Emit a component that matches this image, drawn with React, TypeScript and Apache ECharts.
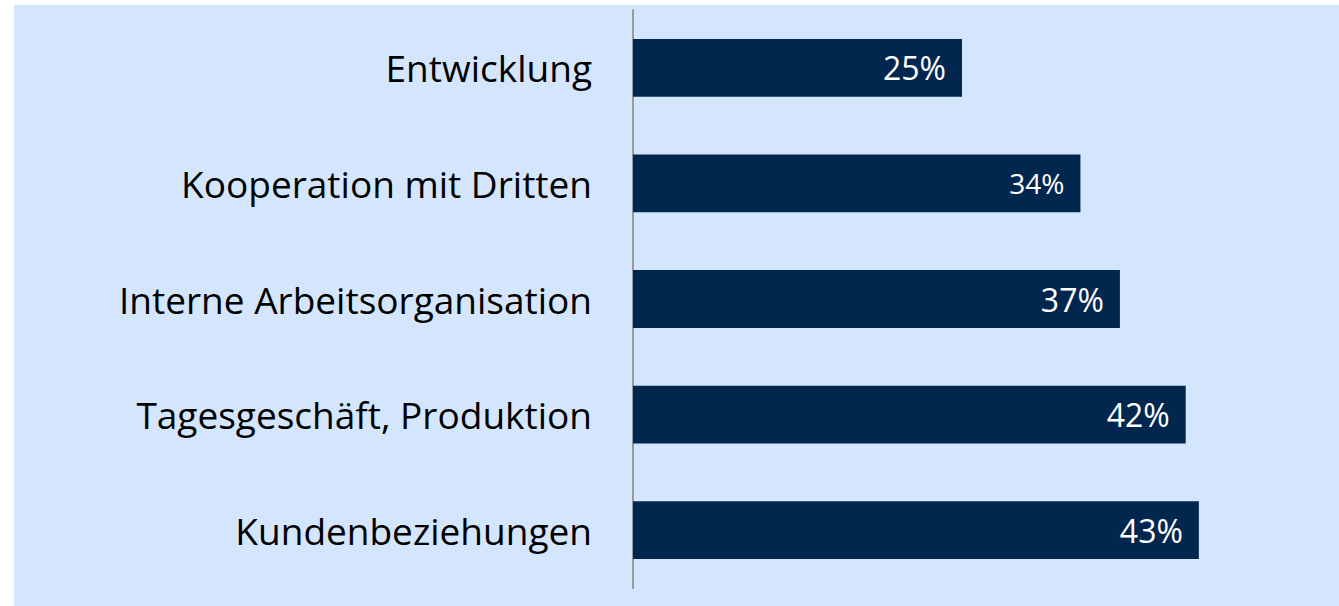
import React, { useEffect, useRef } from "react";
import * as echarts from "echarts";

const categories = [
  "Kundenbeziehungen",
  "Tagesgeschäft, Produktion",
  "Interne Arbeitsorganisation",
  "Kooperation mit Dritten",
  "Entwicklung",
];
const values = [43, 42, 37, 34, 25];
const labelSizes = [32, 32, 32, 28, 32];

export default function App() {
  const ref = useRef<HTMLDivElement>(null);
  useEffect(() => {
    const chart = echarts.init(ref.current!, undefined, { renderer: "svg" });
    chart.setOption({
      animation: false,
      backgroundColor: "#D4E6FD",
      grid: { left: 619, top: 5, bottom: 18, right: 48, containLabel: false },
      xAxis: {
        type: "value",
        min: 0,
        max: 50,
        show: false,
      },
      yAxis: {
        type: "category",
        data: categories,
        axisLine: { show: true, lineStyle: { color: "#9a9a9a", width: 2 } },
        axisTick: { show: false },
        axisLabel: {
          color: "#000",
          fontFamily: "Open Sans",
          fontSize: 37,
          margin: 41,
        },
      },
      series: [
        {
          type: "bar",
          data: values.map((v, i) => ({
            value: v,
            label: { fontSize: labelSizes[i] },
          })),
          barWidth: "50%",
          itemStyle: { color: "#02274F" },
          label: {
            show: true,
            position: "insideRight",
            distance: 16,
            color: "#fff",
            fontFamily: "Open Sans",
            formatter: "{c}%",
          },
        },
      ],
    });
    return () => chart.dispose();
  }, []);
  return (
    <div style={{ position: "fixed", left: 0, top: 0, width: 1339, height: 606, background: "#fff" }}>
      <div ref={ref} style={{ position: "absolute", left: 14, top: 5, width: 1325, height: 601 }} />
    </div>
  );
}
